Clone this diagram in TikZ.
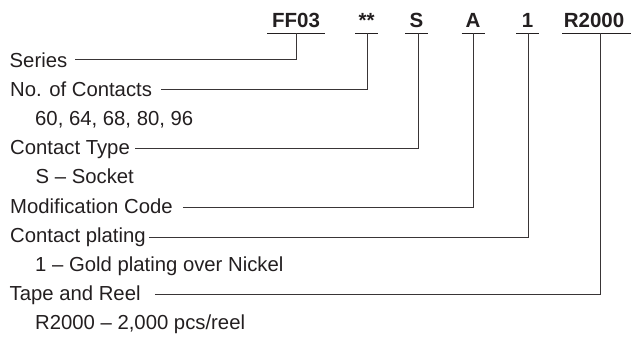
\documentclass[tikz,border=0pt]{standalone}
\usepackage{fontspec}
\setmainfont{Liberation Sans}
\usetikzlibrary{calc}
\definecolor{ink}{HTML}{231F20}
\tikzset{
  lbl/.style={anchor=base west, inner sep=0pt, text=ink, font=\fontsize{20.3}{24}\selectfont},
  code/.style={anchor=base, inner xsep=0pt, inner ysep=0pt, text depth=0pt, minimum height=0pt,
               text=ink, font=\fontsize{20.5}{24}\selectfont\bfseries},
  uline/.style={draw=ink, line width=1.4pt},
  conn/.style={draw=ink!90, line width=0.9pt},
}
\begin{document}
\begin{tikzpicture}[x=1pt,y=-1pt]
\useasboundingbox (0,0) rectangle (631,337);
% codes
\node[code] (c1) at (296,27.8) {FF03};
\node[code] (c2) at (366.5,27.8) {**};
\node[code] (c3) at (416.5,27.8) {S};
\node[code] (c4) at (473,27.8) {A};
\node[code] (c5) at (527.5,27.8) {1};
\node[code] (c6) at (594,27.8) {R2000};
% underlines
\draw[uline] (267,33.3) -- (325,33.3);
\draw[uline] (355,33.3) -- (378,33.3);
\draw[uline] (405,33.3) -- (428,33.3);
\draw[uline] (461.5,33.3) -- (484.5,33.3);
\draw[uline] (516,33.3) -- (539,33.3);
\draw[uline] (562,33.3) -- (631,33.3);
\coordinate (u1) at (296,33);
\coordinate (u2) at (367,33);
\coordinate (u3) at (418.5,33);
\coordinate (u4) at (473,33);
\coordinate (u5) at (528.5,33);
\coordinate (u6) at (600,33);
% labels
\node[lbl] (l1) at (9.5,67) {Series};
\node[lbl] (l2) at (10,96) {No. of Contacts};
\node[lbl] (l2a) at (35,125.2) {60, 64, 68, 80, 96};
\node[lbl] (l3) at (10,154.6) {Contact Type};
\node[lbl] (l3a) at (35.5,183.8) {S – Socket};
\node[lbl] (l4) at (10,213) {Modification Code};
\node[lbl] (l5) at (10,242) {Contact plating};
\node[lbl] (l5a) at (35,271.4) {1 – Gold plating over Nickel};
\node[lbl] (l6) at (9.5,300.6) {Tape and Reel};
\node[lbl] (l6a) at (35,329.8) {R2000 – 2,000 pcs/reel};
% connector starts
\coordinate (s1) at ($(l1.base east)+(8,-8)$);
\coordinate (s2) at ($(l2.base east)+(9,-7)$);
\coordinate (s3) at ($(l3.base east)+(5,-6.6)$);
\coordinate (s4) at ($(l4.base east)+(10,-6)$);
\coordinate (s5) at ($(l5.base east)+(3,-5)$);
\coordinate (s6) at ($(l6.base east)+(14,-6.6)$);
\draw[conn] (s1) -| (u1);
\draw[conn] (s2) -| (u2);
\draw[conn] (s3) -| (u3);
\draw[conn] (s4) -| (u4);
\draw[conn] (s5) -| (u5);
\draw[conn] (s6) -| (u6);
\end{tikzpicture}
\end{document}
